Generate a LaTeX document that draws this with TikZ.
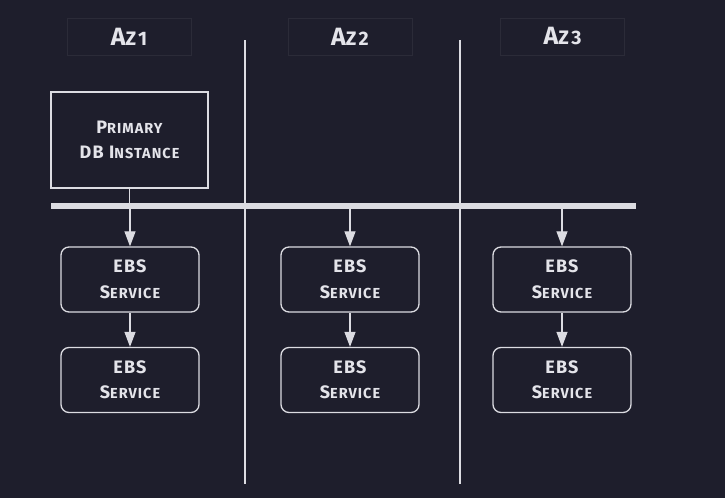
\documentclass[tikz,border=0pt]{standalone}
\usepackage{fontspec}
\usetikzlibrary{arrows.meta,calc}
\newfontfamily\handfont[LetterSpace=7.0]{Fira Sans}
\newfontfamily\hdrfont[LetterSpace=12.0]{Fira Sans}
\newcommand{\hs}[2]{{\fontsize{18}{25.5}\selectfont #1}{\fontsize{14.5}{25.5}\selectfont #2}}
\newcommand{\Hs}[2]{{\hdrfont\bfseries\fontsize{25}{28}\selectfont #1}{\hdrfont\bfseries\fontsize{19.5}{28}\selectfont #2}}
\definecolor{bgc}{HTML}{1E1E2C}
\definecolor{fgc}{HTML}{DCDCE2}
\definecolor{txc}{HTML}{E4E4EA}
\definecolor{hdr}{HTML}{2B2B38}
\begin{document}
\begin{tikzpicture}[x=1pt,y=-1pt,
  every node/.style={font=\handfont\bfseries\fontsize{14.5}{25.5}\selectfont, text=txc, align=center, inner sep=0pt},
  hdrbox/.style={draw=hdr, line width=1pt, minimum width=124pt, minimum height=37pt},
  ebsbox/.style={draw=fgc, line width=1.3pt, rounded corners=8pt, minimum width=138pt, minimum height=65pt},
  sqbox/.style={draw=fgc, line width=1.3pt, minimum width=157pt, minimum height=96pt},
  vline/.style={draw=fgc, line width=1.2pt},
  conn/.style={draw=fgc, line width=1.2pt, -{Triangle[length=15pt,width=11pt]}}
]
\fill[bgc] (0,0) rectangle (725,498);
\useasboundingbox (0,0) rectangle (725,498);

\node[hdrbox] (h1) at (129,36.5) {\Hs{A}{Z1}};
\node[hdrbox] (h2) at (350,36.5) {\Hs{A}{Z2}};
\node[hdrbox] (h3) at (562.5,36.5) {\Hs{A}{Z3}};

\coordinate (v1t) at (245,40); \coordinate (v1b) at (245,484);
\coordinate (v2t) at (460,40); \coordinate (v2b) at (460,484);
\draw[vline] (v1t) -- (v1b);
\draw[vline] (v2t) -- (v2b);

\node[sqbox] (prim) at (129.5,140) {\hs{P}{RIMARY}\\\hs{DB I}{NSTANCE}};

\node[fill=fgc, minimum width=585pt, minimum height=6pt] (bar) at (343.5,206) {};

\foreach \n/\x/\y in {e11/130/279.5, e12/130/380, e21/350/279.5, e22/350/380, e31/562/279.5, e32/562/380}{
  \node[ebsbox] (\n) at (\x,\y) {\hs{EBS}{}\\\hs{S}{ERVICE}};
}

\draw[vline] (prim.south) -- (prim.south |- bar.north);
\foreach \e in {e11,e21,e31}{
  \draw[conn] (\e.north |- bar.south) -- (\e.north);
}
\draw[conn] (e11) -- (e12);
\draw[conn] (e21) -- (e22);
\draw[conn] (e31) -- (e32);
\end{tikzpicture}
\end{document}
